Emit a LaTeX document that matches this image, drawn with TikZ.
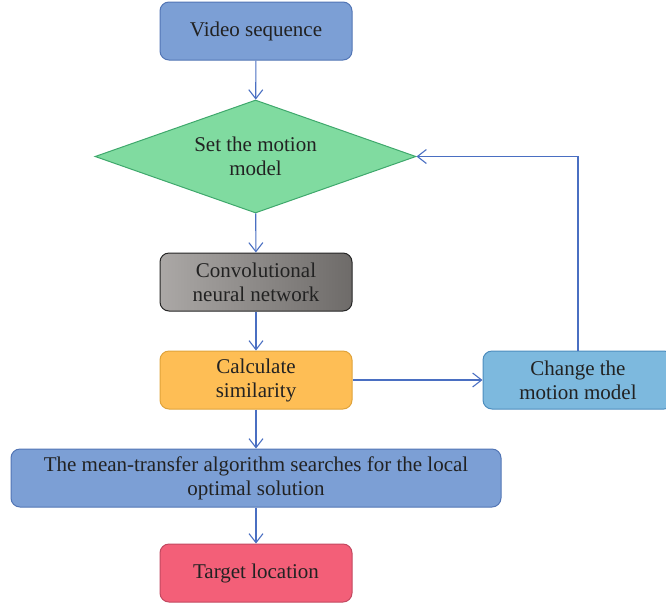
\documentclass[tikz,border=0pt]{standalone}
\usepackage{fontspec}
\setmainfont{Liberation Serif}
\usetikzlibrary{arrows.meta,shapes.geometric}
\definecolor{txt}{HTML}{222222}
\definecolor{seqblue}{HTML}{7C9FD5}
\definecolor{seqedge}{HTML}{5275B5}
\definecolor{setgreen}{HTML}{80DBA0}
\definecolor{setedge}{HTML}{3FA86C}
\definecolor{cnnlight}{HTML}{ABA8A6}
\definecolor{cnndark}{HTML}{6E6B69}
\definecolor{simorange}{HTML}{FEBE55}
\definecolor{simedge}{HTML}{E0A33A}
\definecolor{chgblue}{HTML}{7DB9DE}
\definecolor{chgedge}{HTML}{4D8DBE}
\definecolor{tgtred}{HTML}{F35F78}
\definecolor{tgtedge}{HTML}{C24860}
\definecolor{linkblue}{HTML}{4A6FC2}

\begin{document}
\begin{tikzpicture}[x=1pt,y=-1pt,>={Straight Barb[length=9pt,width=14pt]}]
    \tikzstyle{box}=[draw,rounded corners=9pt,line width=1pt,minimum width=192pt,minimum height=58pt,
        align=center,text=txt,font=\fontsize{21}{24}\selectfont]
    \tikzstyle{link}=[->,line width=1.1pt,draw=linkblue]
    \useasboundingbox (0,0) rectangle (666,606);
    % main column
    \node[box,fill=seqblue,draw=seqedge] (seq) at (256,31) {Video sequence};
    \node[diamond,aspect=2.84,draw=setedge,fill=setgreen,line width=1pt,inner sep=0pt,
        minimum width=321pt,minimum height=113pt,align=center,text=txt,
        font=\fontsize{21}{24}\selectfont] (set) at (255.5,156.5) {Set the motion\\model};
    \node[box,left color=cnnlight,right color=cnndark,draw=black!85] (cnn) at (256,282) {Convolutional\\neural network};
    \node[box,fill=simorange,draw=simedge] (sim) at (256,380) {Calculate\\similarity};
    \node[box,fill=chgblue,draw=chgedge,minimum width=190pt] (chg) at (578,380) {Change the\\motion model};
    \node[box,fill=seqblue,draw=seqedge,minimum width=490pt] (mean) at (256,478)
        {The mean-transfer algorithm searches for the local\\optimal solution};
    \node[box,fill=tgtred,draw=tgtedge] (tgt) at (256,573) {Target location};
    % connectors
    \draw[link] (seq) -- (set);
    \draw[link] (set) -- (cnn);
    \draw[link] (cnn) -- (sim);
    \draw[link] (sim) -- (mean);
    \draw[link] (mean) -- (tgt);
    \draw[link] (sim) -- (chg);
    \draw[link] (chg.north) |- (set.east);
\end{tikzpicture}
\end{document}
